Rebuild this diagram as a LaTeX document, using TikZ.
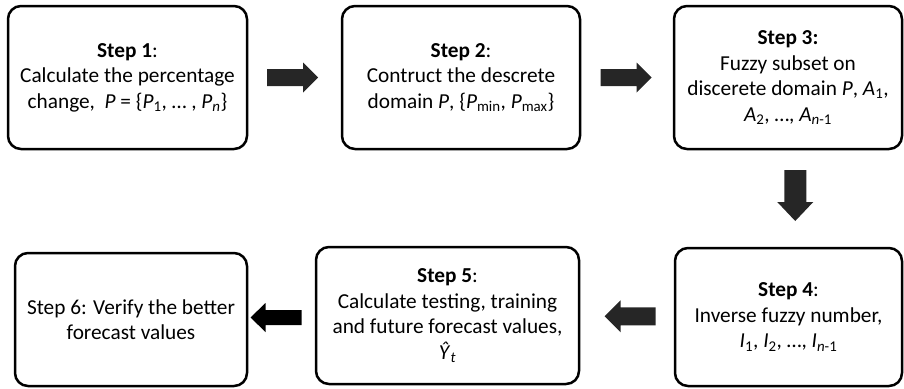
\documentclass[tikz,border=0pt]{standalone}
\usepackage{fontspec}
\setmainfont{Carlito}
\usetikzlibrary{calc}
\definecolor{arrowdark}{HTML}{262626}
\tikzset{
  stepbox/.style={draw=black, line width=2.5pt, rounded corners=13pt, fill=white,
    align=center, inner sep=0pt, font=\fontsize{21.3}{25.5}\selectfont},
}
% #1 centre, #2 angle, #3 shaft half width, #4 head half width, #5 head length, #6 colour
\newcommand\blockarrow[6]{%
  \fill[#6, shift={(#1)}, rotate=#2]
    (-25.5,-#3) -- ({25.5-#5},-#3) -- ({25.5-#5},-#4) -- (25.5,0)
    -- ({25.5-#5},#4) -- ({25.5-#5},#3) -- (-25.5,#3) -- cycle;}
\newcommand\sbs[1]{\textsubscript{#1}}
\begin{document}
\begin{tikzpicture}[x=1pt,y=1pt]
\useasboundingbox (0,0) rectangle (904,-388);
\node[stepbox, minimum width=239pt, minimum height=143pt] (s1) at (127.5,-77.5)
  {\textbf{Step 1}:\\Calculate the percentage\\change,~~\textit{P} = \{\textit{P}\sbs{1}, … , \textit{P}\sbs{\textit{n}}\}};
\node[stepbox, minimum width=238pt, minimum height=143pt] (s2) at (461,-77.5)
  {\textbf{Step 2}:\\Contruct the descrete\\domain \textit{P}, \{\textit{P}\sbs{min}, \textit{P}\sbs{max}\}};
\node[stepbox, minimum width=228pt, minimum height=143pt] (s3) at (788,-77.5)
  {\textbf{Step 3:}\\Fuzzy subset on\\discerete domain \textit{P}, \textit{A}\sbs{1},\\\textit{A}\sbs{2}, …, \textit{A}\sbs{\textit{n}-1}};
\node[stepbox, minimum width=227pt, minimum height=138pt] (s4) at (788.5,-317)
  {\textbf{Step 4}:\\Inverse fuzzy number,\\\textit{I}\sbs{1}, \textit{I}\sbs{2}, …, \textit{I}\sbs{\textit{n}-1}};
\node[stepbox, minimum width=263pt, minimum height=137pt] (s5) at (447.5,-315.5)
  {\textbf{Step 5}:\\Calculate testing, training\\and future forecast values,\\\textit{Ŷ}\sbs{\textit{t}}};
\node[stepbox, minimum width=232pt, minimum height=133pt] (s6) at (131,-319.5)
  {Step 6: Verify the better\\forecast values};
\blockarrow{$(s1.east)!0.5!(s2.west)+(-2,0)$}{0}{8.5}{15}{15}{arrowdark}
\blockarrow{$(s2.east)!0.5!(s3.west)+(-1,0)$}{0}{8.5}{15}{15}{arrowdark}
\blockarrow{$(s3.south)!0.5!(s4.north)+(7,3)$}{-90}{11}{18}{19}{arrowdark}
\blockarrow{$(s5.east)!0.5!(s4.west)+(3,0)$}{180}{9}{16}{16}{arrowdark}
\blockarrow{$(s6.east)!0.5!(s5.west)+(-5.5,0)$}{180}{7.5}{14.5}{15}{black}
\end{tikzpicture}
\end{document}
